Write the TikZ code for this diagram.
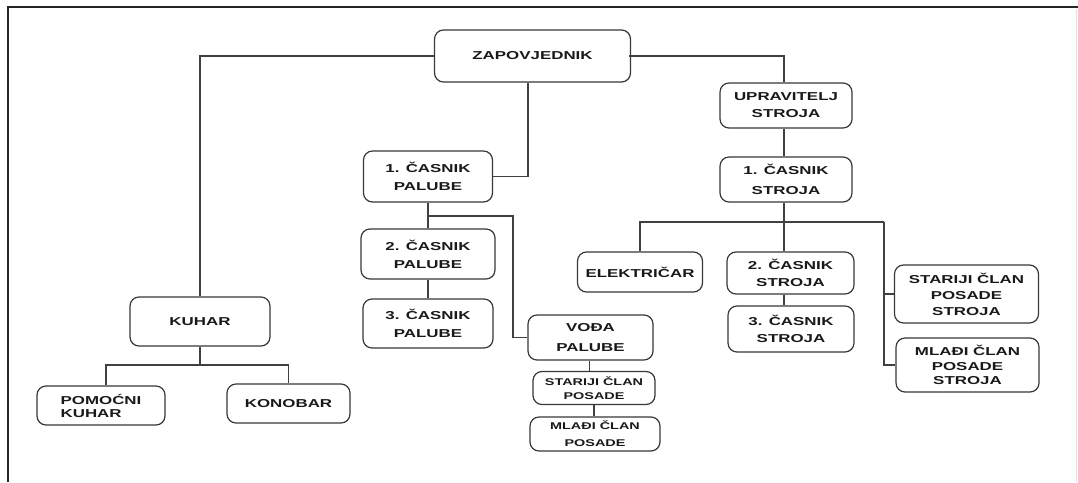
\documentclass[tikz,border=0pt]{standalone}
\usepackage{fontspec}
\newfontfamily\boxfont[FakeStretch=1.47]{Liberation Sans}
\usetikzlibrary{calc}
\begin{document}
\begin{tikzpicture}[x=1pt,y=-1pt,
  rank/.style={draw=black!78, line width=1.2pt, rounded corners=9pt,
    align=center, inner sep=0pt, text=black!90,
    font=\boxfont\bfseries\fontsize{11.5}{17}\selectfont},
  lead/.style={font=\boxfont\bfseries\fontsize{11.5}{#1}\selectfont},
  smalltext/.style={font=\boxfont\bfseries\fontsize{9.8}{#1}\selectfont},
  link/.style={draw=black!75, line width=1.2pt},
  frame/.style={draw=black!85, line width=2pt}]
\useasboundingbox (0,0) rectangle (1078,482);
\draw[frame] (8,482) -- (8,7) -- (1078,7);
\draw[black!12, line width=0.8pt] (1076,9) -- (1076,482);

% command and deck branch
\node[rank, minimum width=196pt, minimum height=52pt] (zap) at (532.5,56) {ZAPOVJEDNIK};
\node[rank, lead=18, minimum width=129pt, minimum height=51pt] (cp1) at (428,176.5) {1. ČASNIK\\PALUBE};
\node[rank, lead=18, minimum width=134pt, minimum height=50pt] (cp2) at (428,254) {2. ČASNIK\\PALUBE};
\node[rank, lead=18, minimum width=130pt, minimum height=49pt] (cp3) at (428,323.5) {3. ČASNIK\\PALUBE};
\node[rank, lead=20, minimum width=125pt, minimum height=45pt] (voda) at (590.5,337.5) {VOĐA\\PALUBE};
\node[rank, smalltext=14, minimum width=122pt, minimum height=33pt] (scp) at (594,388) {STARIJI ČLAN\\POSADE};
\node[rank, smalltext=17, minimum width=130pt, minimum height=34pt] (mcp) at (595,434) {MLAĐI ČLAN\\POSADE};

% galley branch
\node[rank, minimum width=140pt, minimum height=49pt] (kuhar) at (200,321.5) {KUHAR};
\node[rank, lead=13, align=left, minimum width=128pt, minimum height=39pt] (pom) at (101,405.5) {POMOĆNI\\KUHAR};
\node[rank, minimum width=123pt, minimum height=39pt] (kon) at (288.5,403.5) {KONOBAR};

% engine branch
\node[rank, minimum width=132pt, minimum height=45pt] (upr) at (786,105.5) {UPRAVITELJ\\STROJA};
\node[rank, lead=20, minimum width=132pt, minimum height=45pt] (cs1) at (786,179.5) {1. ČASNIK\\STROJA};
\node[rank, minimum width=125pt, minimum height=40pt] (ele) at (640,272) {ELEKTRIČAR};
\node[rank, minimum width=127pt, minimum height=42pt] (cs2) at (790.5,273) {2. ČASNIK\\STROJA};
\node[rank, minimum width=126pt, minimum height=46pt] (cs3) at (791,329) {3. ČASNIK\\STROJA};
\node[rank, lead=16, minimum width=144pt, minimum height=58pt] (scs) at (966.5,294) {STARIJI ČLAN\\POSADE\\STROJA};
\node[rank, lead=14.5, minimum width=143pt, minimum height=54pt] (mcs) at (967.5,365) {MLAĐI ČLAN\\POSADE\\STROJA};

% junction points
\coordinate (deckfork) at (513,216);
\coordinate (galleyfork) at (200,365);
\coordinate (enginefork) at (884,222);

% connectors
\draw[link] (zap.west) -| (kuhar.north);
\draw[link] ([xshift=-2pt]zap.east) -| ([xshift=-2pt]upr.north);
\draw[link] ([xshift=-4.5pt]zap.south) |- (cp1.east);
\draw[link] (cp1.south) -- (cp2.north);
\draw[link] (cp1.south |- deckfork) -- (deckfork) |- (voda.west);
\draw[link] (cp2.south) -- (cp3.north);
\draw[link] ([xshift=-1pt]voda.south) -- ([xshift=-1pt]voda.south |- scp.north);
\draw[link] (scp.south) -- (scp.south |- mcp.north);

\draw[link] (kuhar.south) -- (galleyfork);
\draw[link] ([xshift=5pt]pom.north) |- (galleyfork) -| (kon.north);

\draw[link] ([xshift=-2pt]upr.south) -- ([xshift=-2pt]cs1.north);
\draw[link] ([xshift=-2pt]cs1.south) -- ([xshift=-2pt]cs1.south |- enginefork);
\draw[link] (ele.north) |- (enginefork);
\draw[link] ([xshift=-2pt]cs1.south |- enginefork) -- ([xshift=-2pt]cs1.south |- cs2.north);
\draw[link] ([xshift=-2pt]cs1.south |- cs2.south) -- ([xshift=-2pt]cs1.south |- cs3.north);
\draw[link] (enginefork) |- (mcs.west);
\draw[link] (scs.west) -- (scs.west -| enginefork);
\end{tikzpicture}
\end{document}
